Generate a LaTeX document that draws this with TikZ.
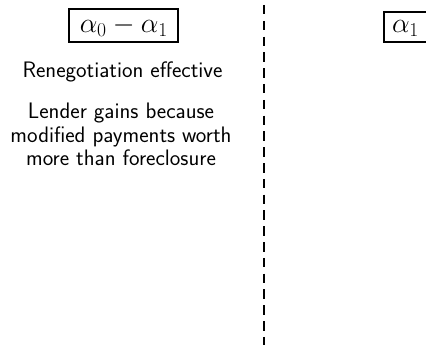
\RequirePackage{fix-cm}
\documentclass[tikz,border=0pt]{standalone}
\usepackage{fontspec}
\begin{document}
\begin{tikzpicture}[x=1pt,y=-1pt,
  labelbox/.style={draw, line width=2.2pt, inner sep=0pt, anchor=base,
    font=\fontsize{28}{34}\selectfont},
  bodytext/.style={font=\sffamily\fontsize{22.4}{23.6}\selectfont, inner sep=0pt, align=center},
  divider/.style={line width=2.2pt, dash pattern=on 9.5pt off 6.3pt}]
\useasboundingbox (0,0) rectangle (426,345);
\clip (0,0) rectangle (426,345);
\node[labelbox, minimum width=109pt, text height=23.2pt, text depth=9.5pt] (diff) at (123.8,32.5) {$\alpha_0-\alpha_1$};
\node[labelbox, minimum width=43pt, text height=20.8pt, text depth=9.2pt] (alphaone) at (405.5,32.5) {$\alpha_1$};
\node[bodytext, anchor=base] (reneg) at (122.5,77.7) {Renegotiation effective};
\node[bodytext, anchor=north] (gain) at (121,103) {Lender gains because\\modified payments worth\\more than foreclosure};
\coordinate (divtop) at (264,5);
\coordinate (divbot) at (264,350);
\draw[divider] (divtop) -- (divbot);
\end{tikzpicture}
\end{document}
